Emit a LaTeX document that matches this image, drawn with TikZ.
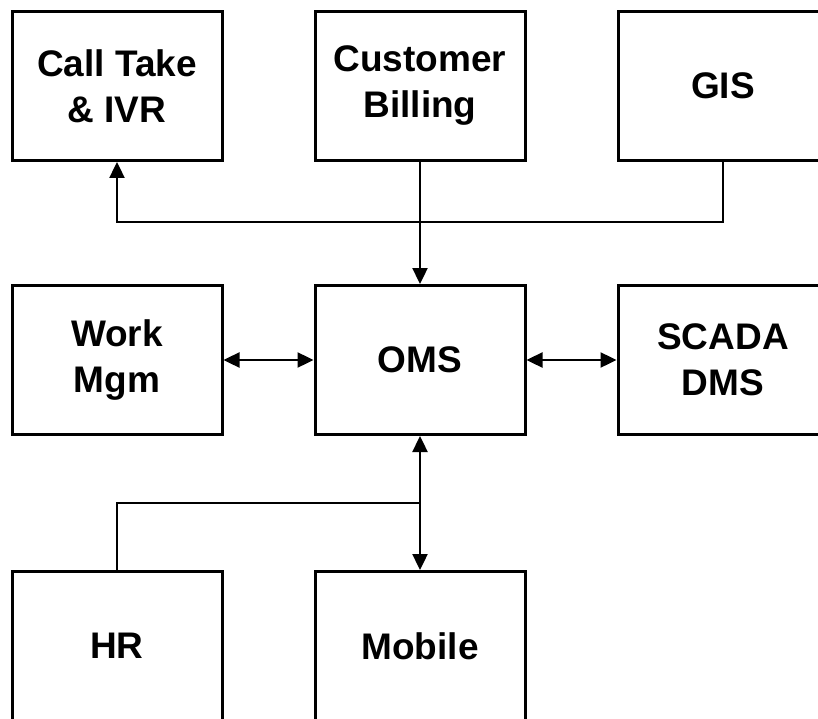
\documentclass[tikz,border=0pt]{standalone}
\usepackage{fontspec}
\setmainfont{Liberation Sans}
\usetikzlibrary{arrows.meta}
\begin{document}
\begin{tikzpicture}[x=1pt,y=-1pt,
  sysbox/.style={draw=black, line width=3pt, minimum width=210pt, minimum height=149pt,
    inner sep=0pt, align=center, font=\fontsize{37}{46}\selectfont\bfseries},
  conn/.style={draw=black, line width=2.4pt},
  tip/.style={-{Triangle[length=16pt,width=15pt]}},
  tips/.style={{Triangle[length=16pt,width=15pt]}-{Triangle[length=16pt,width=15pt]}}]
  \useasboundingbox (0,0) rectangle (818,719);
  % top row
  \node[sysbox] (call) at (117,86) {Call Take\\\& IVR};
  \node[sysbox] (bill) at (420,86) {Customer\\Billing};
  \node[sysbox] (gis)  at (723,86) {GIS};
  % middle row
  \node[sysbox] (work) at (117,360) {Work\\Mgm};
  \node[sysbox] (oms)  at (420,360) {OMS};
  \node[sysbox] (scada) at (723,360) {SCADA\\DMS};
  % bottom row
  \node[sysbox] (hr)   at (117,646) {HR};
  \node[sysbox] (mob)  at (420,646) {Mobile};
  % bus levels
  \coordinate (busT) at (0,222);
  \coordinate (busB) at (0,503);
  % connectors
  \draw[conn,tip] (gis.south) |- (call.south |- busT) -- (call.south);
  \draw[conn,tip] (bill.south) -- (oms.north);
  \draw[conn,tips] (work.east) -- (oms.west);
  \draw[conn,tips] (oms.east) -- (scada.west);
  \draw[conn,tips] (oms.south) -- (mob.north);
  \draw[conn] (hr.north) |- (mob.north |- busB);
\end{tikzpicture}
\end{document}
